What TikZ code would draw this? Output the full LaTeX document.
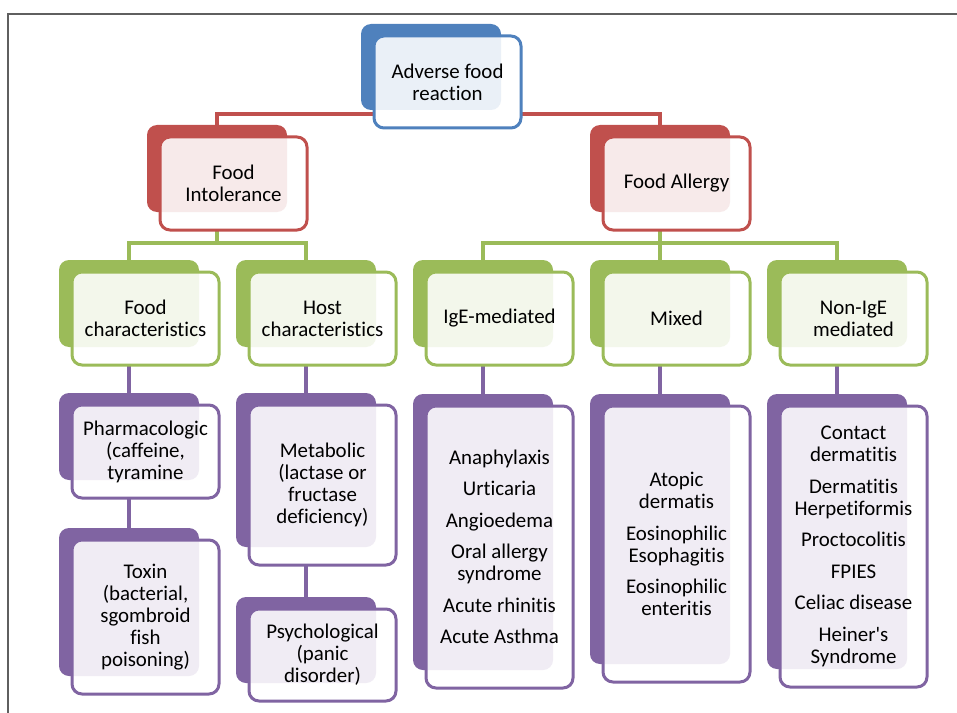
\documentclass[tikz,border=0pt]{standalone}
\usepackage{fontspec}
\setmainfont{Carlito}[Ligatures={TeXOff,NoCommon}]
\usetikzlibrary{backgrounds}
\definecolor{cblue}{HTML}{4F81BD}
\definecolor{cred}{HTML}{C0504D}
\definecolor{cgreen}{HTML}{9BBB59}
\definecolor{cpurple}{HTML}{8064A2}
\definecolor{cframe}{HTML}{5F5F5F}
\newcommand\smartbox[6]{%
  \fill[#5, rounded corners=10bp] ({#2-70},#3) rectangle ({#2+70},{#3+#4});
  \fill[white, rounded corners=10bp] ({#2-57},{#3+12}) rectangle ({#2+90},{#3+#4+18});
  \begin{scope}
    \clip[rounded corners=10bp] ({#2-57},{#3+12}) rectangle ({#2+90},{#3+#4+18});
    \fill[#5!12!white, rounded corners=10bp] ({#2-70},#3) rectangle ({#2+70},{#3+#4});
  \end{scope}
  \draw[#5, line width=3bp, rounded corners=10bp] ({#2-57},{#3+12}) rectangle ({#2+90},{#3+#4+18});
  \node[boxtext] (#1) at ({#2+16.5},{#3+15+#4/2}) {#6};
  \coordinate (#1-in) at (#2,#3);
  \coordinate (#1-out) at (#2,{#3+#4+18});
}
\tikzset{
  boxtext/.style={inner sep=0pt, align=center, text=black, font=\fontsize{20.9bp}{22bp}\selectfont},
  conn/.style={line width=3.5bp},
}
\begin{document}
\begin{tikzpicture}[x=1bp, y=-1bp]
\useasboundingbox (0,0) rectangle (957,713);
% top
\smartbox{adv}{431}{24}{86}{cblue}{Adverse food\\reaction}
% row 1
\smartbox{fi}{217}{125}{87}{cred}{Food\\Intolerance}
\smartbox{fa}{660}{125}{87}{cred}{Food Allergy}
% row 2
\smartbox{fc}{129}{260}{87}{cgreen}{Food\\characteristics}
\smartbox{hc}{306}{260}{87}{cgreen}{Host\\characteristics}
\smartbox{ige}{483}{260}{87}{cgreen}{IgE-mediated}
\smartbox{mix}{660}{260}{87}{cgreen}{Mixed}
\smartbox{non}{837}{260}{87}{cgreen}{Non-IgE\\mediated}
% row 3
\smartbox{ph}{129}{393}{87}{cpurple}{Pharmacologic\\(caffeine,\\tyramine}
\smartbox{tox}{129}{528}{148}{cpurple}{Toxin\\(bacterial,\\sgombroid\\fish\\poisoning)}
\smartbox{met}{306}{393}{154}{cpurple}{Metabolic\\(lactase or\\fructase\\deficiency)}
\smartbox{psy}{306}{597}{86}{cpurple}{Psychological\\(panic\\disorder)}
\smartbox{igel}{483}{394}{276}{cpurple}{Anaphylaxis\\[9.5bp]Urticaria\\[9.5bp]Angioedema\\[9.5bp]Oral allergy\\syndrome\\[9.5bp]Acute rhinitis\\[9.5bp]Acute Asthma}
\smartbox{mixl}{660}{394}{270}{cpurple}{Atopic\\dermatis\\[9.5bp]Eosinophilic\\Esophagitis\\[9.5bp]Eosinophilic\\enteritis}
\smartbox{nonl}{837}{394}{275}{cpurple}{Contact\\dermatitis\\[9.5bp]Dermatitis\\Herpetiformis\\[9.5bp]Proctocolitis\\[9.5bp]FPIES\\[9.5bp]Celiac disease\\[9.5bp]Heiner's\\Syndrome}
\coordinate (adv-bus) at (431,114);
\coordinate (fi-bus) at (217,243);
\coordinate (fa-bus) at (660,243);
\begin{scope}[on background layer]
  \draw[cframe, line width=2bp] (8,713) -- (8,14) -- (957,14);
  \draw[conn, cred] (fi-in) |- (adv-bus) -| (fa-in);
  \draw[conn, cgreen] (fc-in) |- (fi-bus) -| (hc-in);
  \draw[conn, cgreen] (fi-out) -- (fi-bus);
  \draw[conn, cgreen] (ige-in) |- (fa-bus) -| (non-in);
  \draw[conn, cgreen] (fa-out) -- (mix-in);
  \draw[conn, cpurple] (fc-out) -- (ph-in);
  \draw[conn, cpurple] (ph-out) -- (tox-in);
  \draw[conn, cpurple] (hc-out) -- (met-in);
  \draw[conn, cpurple] (met-out) -- (psy-in);
  \draw[conn, cpurple] (ige-out) -- (igel-in);
  \draw[conn, cpurple] (mix-out) -- (mixl-in);
  \draw[conn, cpurple] (non-out) -- (nonl-in);
\end{scope}
\end{tikzpicture}
\end{document}
